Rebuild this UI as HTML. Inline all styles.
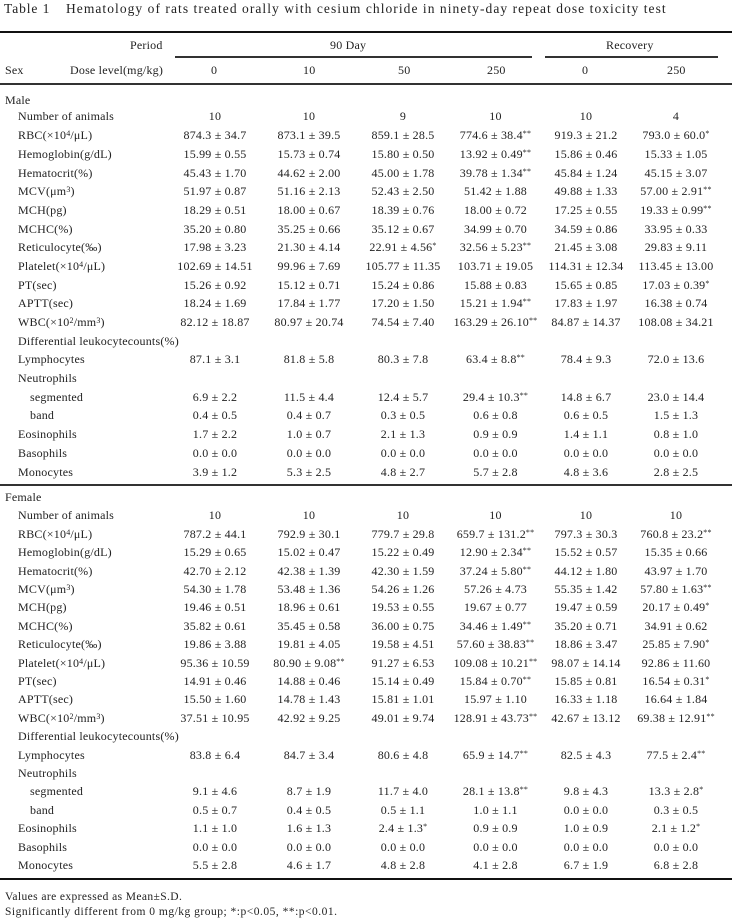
<!DOCTYPE html>
<html><head><meta charset="utf-8"><style>
body{margin:0;width:732px;height:920px;background:#fff;position:relative;font-family:"Liberation Serif","Noto Serif CJK SC",serif;color:#222;font-size:12px;letter-spacing:0.2px;overflow:hidden}
.a{position:absolute;white-space:nowrap}
.r{position:absolute;left:0;width:732px;background:#333}
table{position:absolute;left:0;border-collapse:collapse;table-layout:fixed;width:721px}
td{padding:0;white-space:nowrap;text-align:center}
td:first-child{text-align:left;padding-left:18px}
td.s{padding-left:30px}
sup{font-size:8px;vertical-align:3px;line-height:0}
.m tr{height:18.7px}.f tr{height:18.4px}
</style></head><body>
<div class="a" style="left:4px;top:1px;font-size:13.5px;letter-spacing:0.9px">Table 1</div>
<div class="a" style="left:66px;top:1px;font-size:13.5px;letter-spacing:1.05px">Hematology of rats treated orally with cesium chloride in ninety-day repeat dose toxicity test</div>
<div class="r" style="top:31px;height:2px;background:#111"></div>
<div class="a" style="left:130px;top:38px">Period</div>
<div class="a" style="left:330px;top:38px">90 Day</div>
<div class="a" style="left:606px;top:38px">Recovery</div>
<div class="r" style="top:56px;left:175px;width:357px;height:1.5px"></div>
<div class="r" style="top:56px;left:545px;width:173px;height:1.5px"></div>
<div class="a" style="left:5px;top:63px">Sex</div>
<div class="a" style="left:70px;top:63px">Dose level(mg/kg)</div>
<div class="a" style="left:211px;top:63px">0</div>
<div class="a" style="left:303px;top:63px">10</div>
<div class="a" style="left:398px;top:63px">50</div>
<div class="a" style="left:487px;top:63px">250</div>
<div class="a" style="left:582px;top:63px">0</div>
<div class="a" style="left:667px;top:63px">250</div>
<div class="r" style="top:83px;height:1.5px"></div>
<div class="a" style="left:5px;top:93px">Male</div>
<table class="m" style="top:107.6px"><colgroup><col style="width:168px"><col style="width:94px"><col style="width:94px"><col style="width:94px"><col style="width:91px"><col style="width:90px"><col style="width:90px"></colgroup>
<tr><td>Number of animals</td><td>10</td><td>10</td><td>9</td><td>10</td><td>10</td><td>4</td></tr>
<tr><td>RBC(×10<sup>4</sup>/μL)</td><td>874.3 ± 34.7</td><td>873.1 ± 39.5</td><td>859.1 ± 28.5</td><td>774.6 ± 38.4<sup>**</sup></td><td>919.3 ± 21.2</td><td>793.0 ± 60.0<sup>*</sup></td></tr>
<tr><td>Hemoglobin(g/dL)</td><td>15.99 ± 0.55</td><td>15.73 ± 0.74</td><td>15.80 ± 0.50</td><td>13.92 ± 0.49<sup>**</sup></td><td>15.86 ± 0.46</td><td>15.33 ± 1.05</td></tr>
<tr><td>Hematocrit(%)</td><td>45.43 ± 1.70</td><td>44.62 ± 2.00</td><td>45.00 ± 1.78</td><td>39.78 ± 1.34<sup>**</sup></td><td>45.84 ± 1.24</td><td>45.15 ± 3.07</td></tr>
<tr><td>MCV(μm<sup>3</sup>)</td><td>51.97 ± 0.87</td><td>51.16 ± 2.13</td><td>52.43 ± 2.50</td><td>51.42 ± 1.88</td><td>49.88 ± 1.33</td><td>57.00 ± 2.91<sup>**</sup></td></tr>
<tr><td>MCH(pg)</td><td>18.29 ± 0.51</td><td>18.00 ± 0.67</td><td>18.39 ± 0.76</td><td>18.00 ± 0.72</td><td>17.25 ± 0.55</td><td>19.33 ± 0.99<sup>**</sup></td></tr>
<tr><td>MCHC(%)</td><td>35.20 ± 0.80</td><td>35.25 ± 0.66</td><td>35.12 ± 0.67</td><td>34.99 ± 0.70</td><td>34.59 ± 0.86</td><td>33.95 ± 0.33</td></tr>
<tr><td>Reticulocyte(‰)</td><td>17.98 ± 3.23</td><td>21.30 ± 4.14</td><td>22.91 ± 4.56<sup>*</sup></td><td>32.56 ± 5.23<sup>**</sup></td><td>21.45 ± 3.08</td><td>29.83 ± 9.11</td></tr>
<tr><td>Platelet(×10<sup>4</sup>/μL)</td><td>102.69 ± 14.51</td><td>99.96 ± 7.69</td><td>105.77 ± 11.35</td><td>103.71 ± 19.05</td><td>114.31 ± 12.34</td><td>113.45 ± 13.00</td></tr>
<tr><td>PT(sec)</td><td>15.26 ± 0.92</td><td>15.12 ± 0.71</td><td>15.24 ± 0.86</td><td>15.88 ± 0.83</td><td>15.65 ± 0.85</td><td>17.03 ± 0.39<sup>*</sup></td></tr>
<tr><td>APTT(sec)</td><td>18.24 ± 1.69</td><td>17.84 ± 1.77</td><td>17.20 ± 1.50</td><td>15.21 ± 1.94<sup>**</sup></td><td>17.83 ± 1.97</td><td>16.38 ± 0.74</td></tr>
<tr><td>WBC(×10<sup>2</sup>/mm<sup>3</sup>)</td><td>82.12 ± 18.87</td><td>80.97 ± 20.74</td><td>74.54 ± 7.40</td><td>163.29 ± 26.10<sup>**</sup></td><td>84.87 ± 14.37</td><td>108.08 ± 34.21</td></tr>
<tr><td colspan="7" style="text-align:left">Differential leukocytecounts(%)</td></tr>
<tr><td>Lymphocytes</td><td>87.1 ± 3.1</td><td>81.8 ± 5.8</td><td>80.3 ± 7.8</td><td>63.4 ± 8.8<sup>**</sup></td><td>78.4 ± 9.3</td><td>72.0 ± 13.6</td></tr>
<tr><td colspan="7" style="text-align:left">Neutrophils</td></tr>
<tr><td class="s">segmented</td><td>6.9 ± 2.2</td><td>11.5 ± 4.4</td><td>12.4 ± 5.7</td><td>29.4 ± 10.3<sup>**</sup></td><td>14.8 ± 6.7</td><td>23.0 ± 14.4</td></tr>
<tr><td class="s">band</td><td>0.4 ± 0.5</td><td>0.4 ± 0.7</td><td>0.3 ± 0.5</td><td>0.6 ± 0.8</td><td>0.6 ± 0.5</td><td>1.5 ± 1.3</td></tr>
<tr><td>Eosinophils</td><td>1.7 ± 2.2</td><td>1.0 ± 0.7</td><td>2.1 ± 1.3</td><td>0.9 ± 0.9</td><td>1.4 ± 1.1</td><td>0.8 ± 1.0</td></tr>
<tr><td>Basophils</td><td>0.0 ± 0.0</td><td>0.0 ± 0.0</td><td>0.0 ± 0.0</td><td>0.0 ± 0.0</td><td>0.0 ± 0.0</td><td>0.0 ± 0.0</td></tr>
<tr><td>Monocytes</td><td>3.9 ± 1.2</td><td>5.3 ± 2.5</td><td>4.8 ± 2.7</td><td>5.7 ± 2.8</td><td>4.8 ± 3.6</td><td>2.8 ± 2.5</td></tr>
</table>
<div class="r" style="top:484px;height:1.5px"></div>
<div class="a" style="left:5px;top:490px">Female</div>
<table class="f" style="top:506.8px"><colgroup><col style="width:168px"><col style="width:94px"><col style="width:94px"><col style="width:94px"><col style="width:91px"><col style="width:90px"><col style="width:90px"></colgroup>
<tr><td>Number of animals</td><td>10</td><td>10</td><td>10</td><td>10</td><td>10</td><td>10</td></tr>
<tr><td>RBC(×10<sup>4</sup>/μL)</td><td>787.2 ± 44.1</td><td>792.9 ± 30.1</td><td>779.7 ± 29.8</td><td>659.7 ± 131.2<sup>**</sup></td><td>797.3 ± 30.3</td><td>760.8 ± 23.2<sup>**</sup></td></tr>
<tr><td>Hemoglobin(g/dL)</td><td>15.29 ± 0.65</td><td>15.02 ± 0.47</td><td>15.22 ± 0.49</td><td>12.90 ± 2.34<sup>**</sup></td><td>15.52 ± 0.57</td><td>15.35 ± 0.66</td></tr>
<tr><td>Hematocrit(%)</td><td>42.70 ± 2.12</td><td>42.38 ± 1.39</td><td>42.30 ± 1.59</td><td>37.24 ± 5.80<sup>**</sup></td><td>44.12 ± 1.80</td><td>43.97 ± 1.70</td></tr>
<tr><td>MCV(μm<sup>3</sup>)</td><td>54.30 ± 1.78</td><td>53.48 ± 1.36</td><td>54.26 ± 1.26</td><td>57.26 ± 4.73</td><td>55.35 ± 1.42</td><td>57.80 ± 1.63<sup>**</sup></td></tr>
<tr><td>MCH(pg)</td><td>19.46 ± 0.51</td><td>18.96 ± 0.61</td><td>19.53 ± 0.55</td><td>19.67 ± 0.77</td><td>19.47 ± 0.59</td><td>20.17 ± 0.49<sup>*</sup></td></tr>
<tr><td>MCHC(%)</td><td>35.82 ± 0.61</td><td>35.45 ± 0.58</td><td>36.00 ± 0.75</td><td>34.46 ± 1.49<sup>**</sup></td><td>35.20 ± 0.71</td><td>34.91 ± 0.62</td></tr>
<tr><td>Reticulocyte(‰)</td><td>19.86 ± 3.88</td><td>19.81 ± 4.05</td><td>19.58 ± 4.51</td><td>57.60 ± 38.83<sup>**</sup></td><td>18.86 ± 3.47</td><td>25.85 ± 7.90<sup>*</sup></td></tr>
<tr><td>Platelet(×10<sup>4</sup>/μL)</td><td>95.36 ± 10.59</td><td>80.90 ± 9.08<sup>**</sup></td><td>91.27 ± 6.53</td><td>109.08 ± 10.21<sup>**</sup></td><td>98.07 ± 14.14</td><td>92.86 ± 11.60</td></tr>
<tr><td>PT(sec)</td><td>14.91 ± 0.46</td><td>14.88 ± 0.46</td><td>15.14 ± 0.49</td><td>15.84 ± 0.70<sup>**</sup></td><td>15.85 ± 0.81</td><td>16.54 ± 0.31<sup>*</sup></td></tr>
<tr><td>APTT(sec)</td><td>15.50 ± 1.60</td><td>14.78 ± 1.43</td><td>15.81 ± 1.01</td><td>15.97 ± 1.10</td><td>16.33 ± 1.18</td><td>16.64 ± 1.84</td></tr>
<tr><td>WBC(×10<sup>2</sup>/mm<sup>3</sup>)</td><td>37.51 ± 10.95</td><td>42.92 ± 9.25</td><td>49.01 ± 9.74</td><td>128.91 ± 43.73<sup>**</sup></td><td>42.67 ± 13.12</td><td>69.38 ± 12.91<sup>**</sup></td></tr>
<tr><td colspan="7" style="text-align:left">Differential leukocytecounts(%)</td></tr>
<tr><td>Lymphocytes</td><td>83.8 ± 6.4</td><td>84.7 ± 3.4</td><td>80.6 ± 4.8</td><td>65.9 ± 14.7<sup>**</sup></td><td>82.5 ± 4.3</td><td>77.5 ± 2.4<sup>**</sup></td></tr>
<tr><td colspan="7" style="text-align:left">Neutrophils</td></tr>
<tr><td class="s">segmented</td><td>9.1 ± 4.6</td><td>8.7 ± 1.9</td><td>11.7 ± 4.0</td><td>28.1 ± 13.8<sup>**</sup></td><td>9.8 ± 4.3</td><td>13.3 ± 2.8<sup>*</sup></td></tr>
<tr><td class="s">band</td><td>0.5 ± 0.7</td><td>0.4 ± 0.5</td><td>0.5 ± 1.1</td><td>1.0 ± 1.1</td><td>0.0 ± 0.0</td><td>0.3 ± 0.5</td></tr>
<tr><td>Eosinophils</td><td>1.1 ± 1.0</td><td>1.6 ± 1.3</td><td>2.4 ± 1.3<sup>*</sup></td><td>0.9 ± 0.9</td><td>1.0 ± 0.9</td><td>2.1 ± 1.2<sup>*</sup></td></tr>
<tr><td>Basophils</td><td>0.0 ± 0.0</td><td>0.0 ± 0.0</td><td>0.0 ± 0.0</td><td>0.0 ± 0.0</td><td>0.0 ± 0.0</td><td>0.0 ± 0.0</td></tr>
<tr><td>Monocytes</td><td>5.5 ± 2.8</td><td>4.6 ± 1.7</td><td>4.8 ± 2.8</td><td>4.1 ± 2.8</td><td>6.7 ± 1.9</td><td>6.8 ± 2.8</td></tr>
</table>
<div class="r" style="top:878px;height:2px;background:#111"></div>
<div class="a" style="left:5px;top:891px;font-size:11.5px;letter-spacing:0.4px">Values are expressed as Mean±S.D.</div>
<div class="a" style="left:5px;top:906px;font-size:11.5px;letter-spacing:0.5px">Significantly different from 0 mg/kg group; *:p&lt;0.05, **:p&lt;0.01.</div>
</body></html>
